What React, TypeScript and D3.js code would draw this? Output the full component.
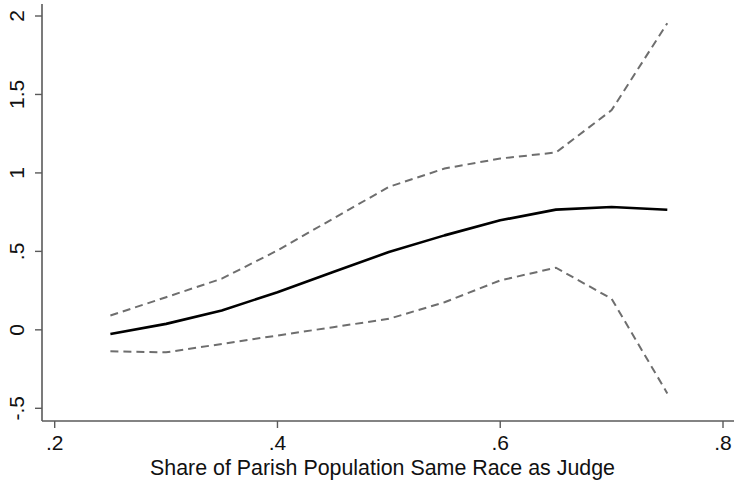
import React from "react";
import * as d3 from "d3";

const shares = [0.25, 0.3, 0.35, 0.4, 0.45, 0.5, 0.55, 0.6, 0.65, 0.7, 0.75];
const estimate = [-0.026, 0.038, 0.123, 0.24, 0.368, 0.496, 0.602, 0.698, 0.766, 0.783, 0.765];
const upperCI = [0.091, 0.208, 0.326, 0.506, 0.709, 0.911, 1.028, 1.092, 1.13, 1.4, 1.954];
const lowerCI = [-0.137, -0.143, -0.09, -0.036, 0.017, 0.07, 0.176, 0.315, 0.396, 0.198, -0.405];
const xTicks = [0.2, 0.4, 0.6, 0.8];
const xTickLabels = [".2", ".4", ".6", ".8"];
const yTicks = [-0.5, 0, 0.5, 1, 1.5, 2];
const yTickLabels = ["-.5", "0", ".5", "1", "1.5", "2"];
const xTitle = "Share of Parish Population Same Race as Judge";

const W = 734;
const H = 482;

export default function App() {
  const x = d3.scaleLinear().domain([0.2, 0.8]).range([54.7, 723]);
  const y = d3.scaleLinear().domain([-0.5, 2]).range([408.3, 16]);
  const axisX = 42;
  const axisY = 421;
  const font = "'Liberation Sans', Arial, sans-serif";
  const line = (vals: number[]) =>
    d3
      .line<number>()
      .x((_, i) => x(shares[i]))
      .y((v) => y(v))
      .curve(d3.curveLinear)(vals) || "";

  return (
    <svg
      width={W}
      height={H}
      style={{ position: "absolute", left: 0, top: 0, background: "#fff" }}
    >
      <rect x={0} y={0} width={W} height={H} fill="#fff" />
      <line x1={axisX} x2={axisX} y1={4} y2={axisY} stroke="#5a5a5a" strokeWidth={1.6} />
      <line x1={axisX} x2={W} y1={axisY} y2={axisY} stroke="#5a5a5a" strokeWidth={1.6} />
      {yTicks.map((t, i) => (
        <g key={"y" + i}>
          <line x1={axisX - 7} x2={axisX} y1={y(t)} y2={y(t)} stroke="#5a5a5a" strokeWidth={1.4} />
          <text
            transform={`translate(23.5,${y(t)}) rotate(-90)`}
            textAnchor="middle"
            fontFamily={font}
            fontSize={21}
            fill="#111"
          >
            {yTickLabels[i]}
          </text>
        </g>
      ))}
      {xTicks.map((t, i) => (
        <g key={"x" + i}>
          <line x1={x(t)} x2={x(t)} y1={axisY} y2={axisY + 7} stroke="#5a5a5a" strokeWidth={1.4} />
          <text x={x(t)} y={450} textAnchor="middle" fontFamily={font} fontSize={21} fill="#111">
            {xTickLabels[i]}
          </text>
        </g>
      ))}
      <text x={382.5} y={474.5} textAnchor="middle" fontFamily={font} fontSize={21.4} fill="#111">
        {xTitle}
      </text>
      <path d={line(upperCI)} fill="none" stroke="#6e6e6e" strokeWidth={2} strokeDasharray="8,5" />
      <path d={line(lowerCI)} fill="none" stroke="#6e6e6e" strokeWidth={2} strokeDasharray="8,5" />
      <path d={line(estimate)} fill="none" stroke="#000" strokeWidth={2.6} strokeLinejoin="round" />
    </svg>
  );
}
